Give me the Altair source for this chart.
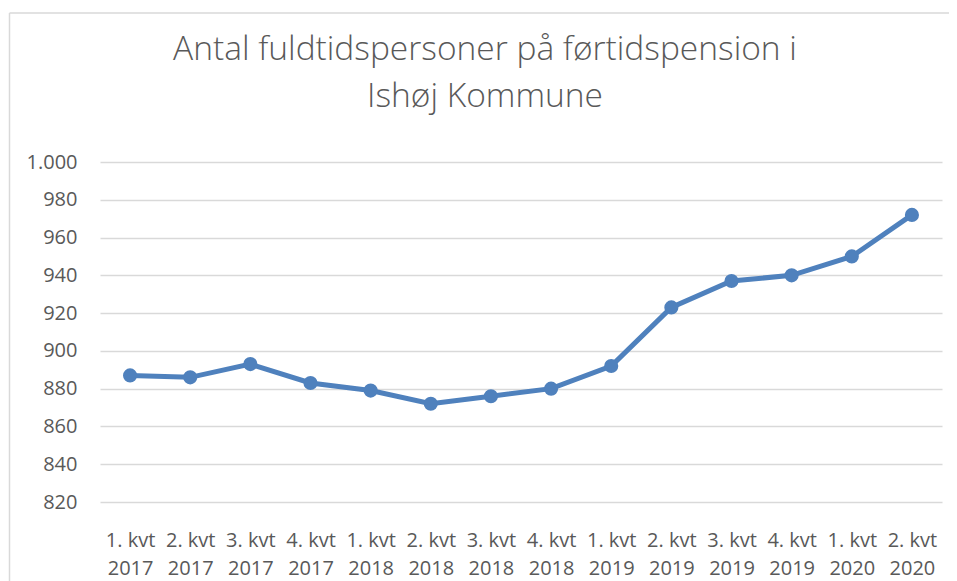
import altair as alt
import pandas as pd

quarters = ["1. kvt", "2. kvt", "3. kvt", "4. kvt", "1. kvt", "2. kvt", "3. kvt",
            "4. kvt", "1. kvt", "2. kvt", "3. kvt", "4. kvt", "1. kvt", "2. kvt"]
years = ["2017", "2017", "2017", "2017", "2018", "2018", "2018",
         "2018", "2019", "2019", "2019", "2019", "2020", "2020"]
values = [887, 886, 893, 883, 879, 872, 876, 880, 892, 923, 937, 940, 950, 972]

categories = [f"{q}|{y}" for q, y in zip(quarters, years)]
df = pd.DataFrame({"periode": categories, "antal": values})

TEXT = "#595959"
BLUE = "#4f81bd"
FONT = "Open Sans"
BORDER = "#d9d9d9"

x = alt.X(
    "periode:N",
    sort=categories,
    title=None,
    scale=alt.Scale(paddingInner=0, paddingOuter=0, align=0.5),
    axis=alt.Axis(
        labelAngle=0,
        labelExpr="split(datum.label, '|')",
        labelFont=FONT,
        labelFontSize=20,
        labelColor=TEXT,
        labelLineHeight=28,
        labelPadding=28,
        ticks=False,
        domain=False,
        grid=False,
        labelOverlap=False,
    ),
)
y = alt.Y(
    "antal:Q",
    title=None,
    scale=alt.Scale(domain=[820, 1000], zero=False, nice=False),
    axis=alt.Axis(
        values=list(range(820, 1001, 20)),
        labelExpr="replace(format(datum.value, ','), ',', '.')",
        labelFont=FONT,
        labelFontSize=20,
        labelColor=TEXT,
        labelPadding=23,
        ticks=False,
        domain=False,
        grid=True,
        gridColor=BORDER,
        gridWidth=1.5,
    ),
)

one = pd.DataFrame({"a": [0]})
frame_top = alt.Chart(one).mark_rule(stroke=BORDER, strokeWidth=1.5).encode(
    x=alt.value(-90.5), x2=alt.value(860), y=alt.value(-149)
)
frame_left = alt.Chart(one).mark_rule(stroke=BORDER, strokeWidth=1.5).encode(
    x=alt.value(-90.5), y=alt.value(-149), y2=alt.value(420)
)

base = alt.Chart(df)
line = base.mark_line(color=BLUE, strokeWidth=5).encode(x=x, y=y)
points = base.mark_circle(color=BLUE, size=200, opacity=1).encode(x=x, y=y)

chart = alt.layer(frame_top, frame_left, line, points).properties(
    width=842,
    height=340,
    title=alt.TitleParams(
        text=["Antal fuldtidspersoner på førtidspension i", "Ishøj Kommune"],
        font=FONT,
        fontSize=33.5,
        fontWeight=300,
        color=TEXT,
        anchor="middle",
        baseline="alphabetic",
        dx=-36,
        dy=128,
        lineHeight=47,
        offset=0,
    ),
    autosize=alt.AutoSizeParams(type="none"),
    padding={"left": 92, "top": 154, "right": 7, "bottom": 79},
).configure_view(stroke=None)

chart.save("out.html", embed_options={"renderer": "svg", "actions": False})
